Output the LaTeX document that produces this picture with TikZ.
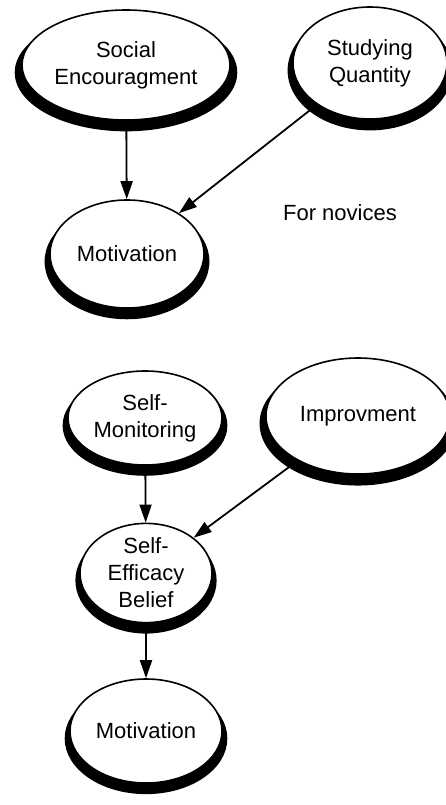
\documentclass[tikz,border=0pt]{standalone}
\usepackage{fontspec}
\setmainfont{Liberation Sans}
\usetikzlibrary{shapes.geometric,shadows,arrows.meta,backgrounds}
\begin{document}
\begin{tikzpicture}[x=1pt,y=-1pt,
  oval/.style={ellipse, draw=black, line width=1.6pt, fill=white, inner sep=0pt,
    align=center, font=\fontsize{22}{27}\selectfont,
    general shadow={shadow scale=1.07, shadow yshift=-7pt, fill=black}},
  link/.style={line width=1.8pt, -{Triangle[length=18pt,width=12pt]}},
  plain/.style={font=\fontsize{22}{27}\selectfont}]
\useasboundingbox (0,0) rectangle (445,805);
\node[oval, minimum width=208pt, minimum height=110pt] (soc) at (126,65) {Social\\Encouragment};
\node[oval, minimum width=154pt, minimum height=112pt] (stu) at (370,63) {Studying\\Quantity};
\node[oval, minimum width=154pt, minimum height=108pt] (mot1) at (127,254) {Motivation};
\node[plain] (nov) at (340,213) {For novices};
\node[oval, minimum width=154pt, minimum height=94pt] (smon) at (145,418) {Self-\\Monitoring};
\node[oval, minimum width=184pt, minimum height=116pt] (imp) at (358,416) {Improvment};
\node[oval, minimum width=132pt, minimum height=96pt] (seb) at (146,573) {Self-\\Efficacy\\Belief};
\node[oval, minimum width=152pt, minimum height=104pt] (mot2) at (146,731) {Motivation};
\begin{scope}[on background layer]
\draw[link] (soc) -- (mot1);
\draw[link] (stu) -- (mot1);
\draw[link] (smon) -- (seb);
\draw[link] (imp) -- (seb);
\draw[link] (seb) -- (mot2);
\end{scope}
\end{tikzpicture}
\end{document}
